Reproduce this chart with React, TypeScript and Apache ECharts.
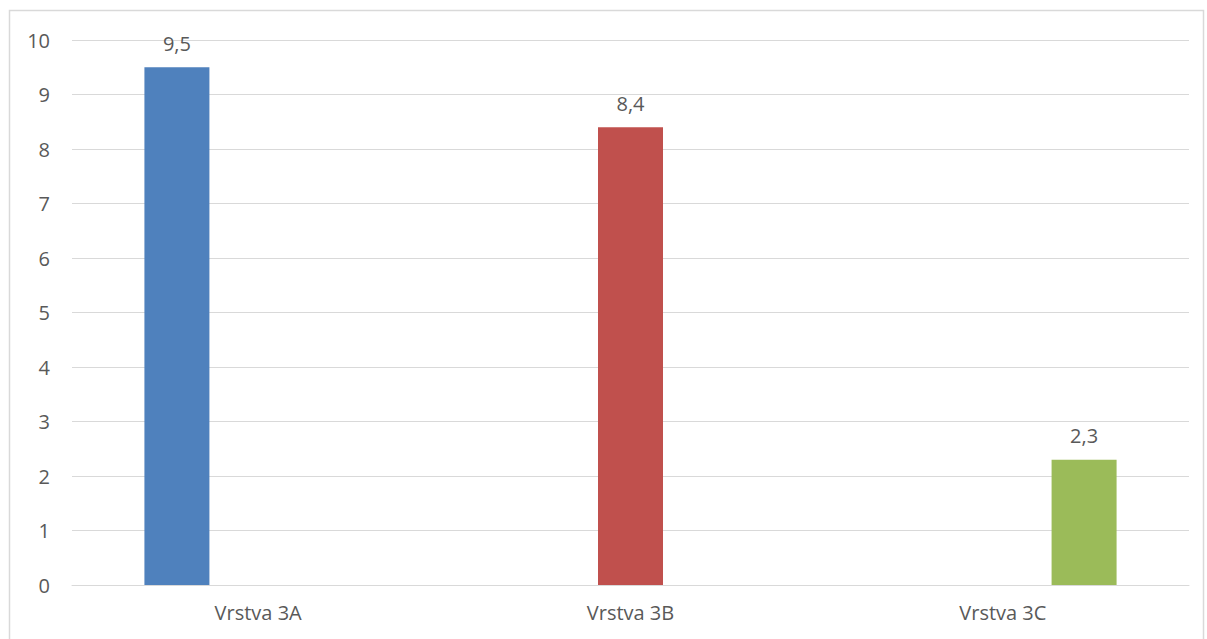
import React, { useEffect, useRef } from "react";
import * as echarts from "echarts";

const categories = ["Vrstva 3A", "Vrstva 3B", "Vrstva 3C"];
const seriesNames = ["3A", "3B", "3C"];
const valuesA = [9.5, null, null];
const valuesB = [null, 8.4, null];
const valuesC = [null, null, 2.3];
const colors = ["#4f81bd", "#c0504d", "#9bbb59"];

const textColor = "#595959";
const gridColor = "#d9d9d9";
const fontFamily = "'Open Sans', 'Noto Sans', sans-serif";

export default function App() {
  const ref = useRef<HTMLDivElement>(null);

  useEffect(() => {
    if (!ref.current) return;
    const chart = echarts.init(ref.current, undefined, { renderer: "svg" });
    const seriesData = [valuesA, valuesB, valuesC];
    chart.setOption({
      animation: false,
      backgroundColor: "#ffffff",
      textStyle: { fontFamily },
      grid: { left: 72, right: 18, top: 40, bottom: 54, containLabel: false },
      graphic: [
        {
          type: "rect",
          shape: { x: 9.5, y: 10.5, width: 1194, height: 640 },
          style: { fill: "none", stroke: gridColor, lineWidth: 1.5 },
          silent: true,
        },
      ],
      xAxis: {
        type: "category",
        data: categories,
        axisLine: { show: true, lineStyle: { color: gridColor, width: 1 } },
        axisTick: { show: false },
        axisLabel: { color: textColor, fontSize: 20, margin: 17, fontFamily },
      },
      yAxis: {
        type: "value",
        min: 0,
        max: 10,
        interval: 1,
        axisLine: { show: false },
        axisTick: { show: false },
        axisLabel: { color: textColor, fontSize: 20, margin: 22, fontFamily },
        splitLine: { lineStyle: { color: gridColor, width: 1 } },
      },
      series: seriesData.map((d, i) => ({
        name: seriesNames[i],
        type: "bar",
        data: d,
        barWidth: 65,
        barGap: "25%",
        itemStyle: { color: colors[i] },
        label: {
          show: true,
          position: "top",
          distance: 14,
          color: textColor,
          fontSize: 20,
          fontFamily,
          formatter: (p: any) => String(p.value).replace(".", ","),
        },
      })),
    });
    return () => chart.dispose();
  }, []);

  return (
    <div
      ref={ref}
      style={{ position: "absolute", left: 0, top: 0, width: 1207, height: 639 }}
    />
  );
}
